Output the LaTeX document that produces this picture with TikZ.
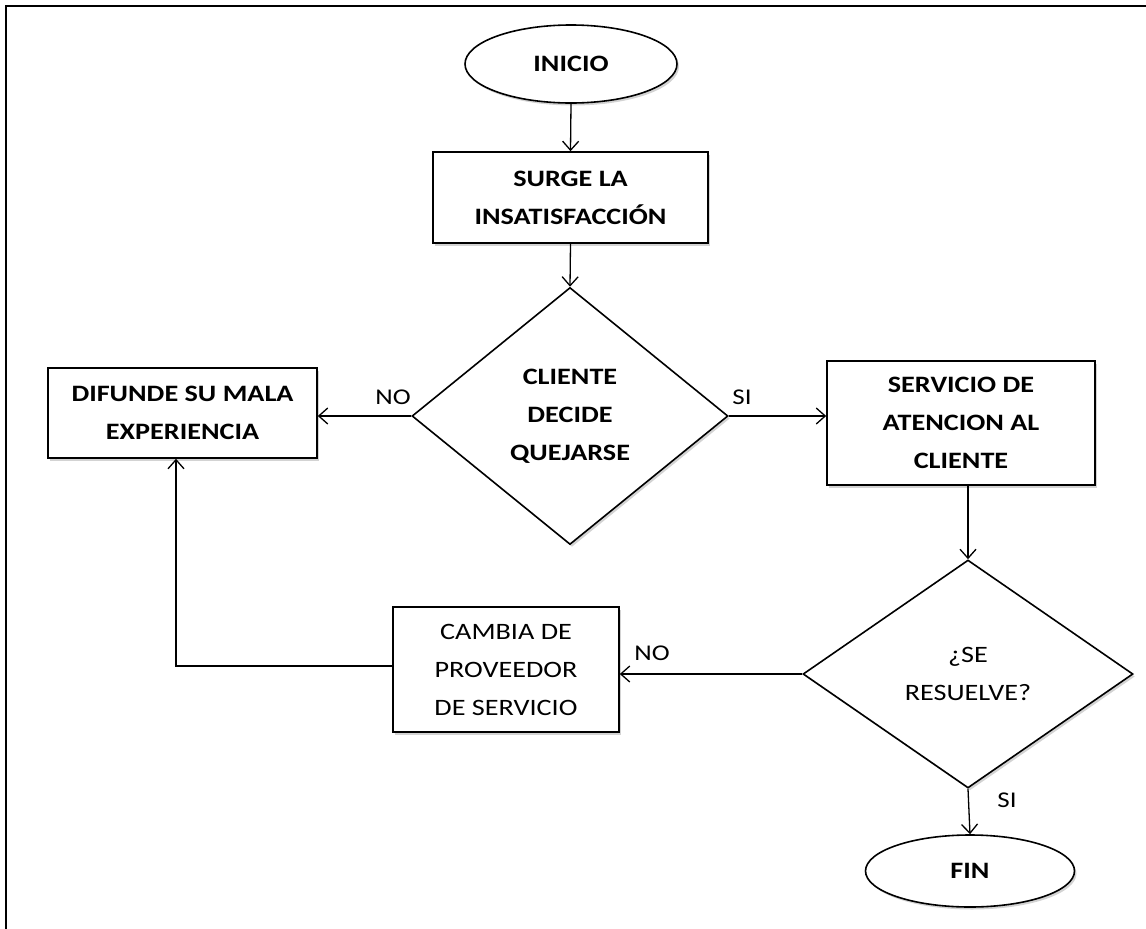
\documentclass[tikz,border=0pt]{standalone}
\usepackage{fontspec}
\setmainfont{Carlito}[FakeStretch=1.2]
\usetikzlibrary{shapes.geometric,arrows.meta,shadows}
\tikzset{
  shapeline/.style={draw=black, line width=1.6pt, fill=white,
    drop shadow={opacity=0.35, shadow xshift=2pt, shadow yshift=-2.5pt}},
  procbox/.style={shapeline, rectangle, inner sep=0pt, align=center,
    font=\fontsize{23.5}{38}\selectfont\bfseries},
  terminal/.style={shapeline, ellipse, inner sep=0pt,
    font=\fontsize{23.5}{38}\selectfont\bfseries},
  decision/.style={shapeline, diamond, inner sep=0pt, align=center,
    font=\fontsize{23.5}{38}\selectfont\bfseries},
  lighttext/.style={font=\fontsize{23.5}{38}\selectfont},
  flow/.style={line width=1.3pt, -{Straight Barb[length=9pt,width=16pt,line width=1.3pt]}},
  branch/.style={font=\fontsize{22.5}{26}\selectfont, inner sep=0pt}
}
\begin{document}
\begin{tikzpicture}[x=1pt,y=-1pt]
  \useasboundingbox (0,0) rectangle (1146,929);
  % partial page frame (top and left edges)
  \draw[line width=2.2pt] (1146,6) -- (6,6) -- (6,929);

  % nodes
  \node[terminal, minimum width=212pt, minimum height=78pt] (inicio) at (571,64) {INICIO};
  \node[procbox, minimum width=275pt, minimum height=91pt] (surge) at (570.5,197.5)
    {SURGE LA\\INSATISFACCIÓN};
  \node[decision, minimum width=316pt, minimum height=257pt] (decide) at (570,416)
    {CLIENTE\\DECIDE\\QUEJARSE};
  \node[procbox, minimum width=269pt, minimum height=90pt] (difunde) at (182.5,413)
    {DIFUNDE SU MALA\\EXPERIENCIA};
  \node[procbox, minimum width=268pt, minimum height=124pt] (servicio) at (961,423)
    {SERVICIO DE\\ATENCION AL\\CLIENTE};
  \node[decision, lighttext, minimum width=330pt, minimum height=228pt] (resuelve) at (968,674)
    {¿SE\\RESUELVE?};
  \node[procbox, lighttext, minimum width=226pt, minimum height=125pt] (cambia) at (506,669.5)
    {CAMBIA DE\\PROVEEDOR\\DE SERVICIO};
  \node[terminal, minimum width=209pt, minimum height=72pt] (fin) at (970,871) {FIN};

  % turning point of the return path
  \coordinate (corner) at (176,666);

  % connectors
  \draw[flow] (inicio.south) -- (surge.north);
  \draw[flow] (surge.south) -- (decide.north);
  \draw[flow] (decide.west) -- (decide.west -| difunde.east);
  \draw[flow] (decide.east) -- (decide.east -| servicio.west);
  \draw[flow] (servicio.south -| resuelve.north) -- (resuelve.north);
  \draw[flow] (resuelve.west) -- (resuelve.west -| cambia.east);
  \draw[flow] (resuelve.south) -- (fin.north);
  \draw[flow] (cambia.west |- corner) -- (corner) -- (corner |- difunde.south);

  % branch labels
  \node[branch] (noA) at (393,397) {NO};
  \node[branch] (siA) at (742,397) {SI};
  \node[branch] (noB) at (652,653) {NO};
  \node[branch] (siB) at (1007,800) {SI};
\end{tikzpicture}
\end{document}
